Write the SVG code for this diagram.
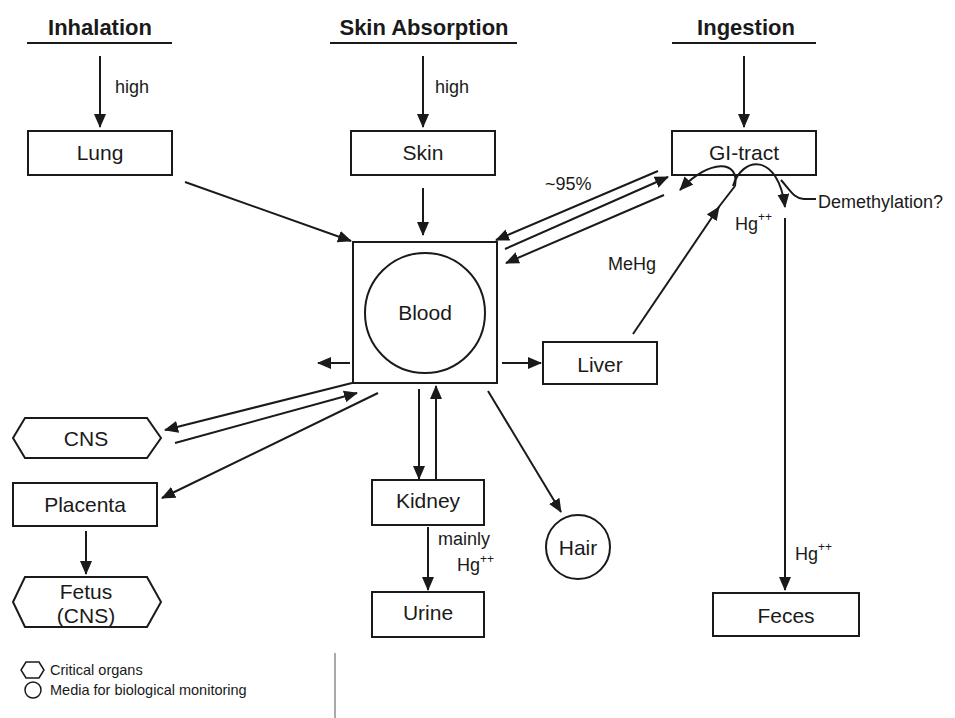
<svg xmlns="http://www.w3.org/2000/svg" width="955" height="718" viewBox="0 0 955 718">
<style>
text{font-family:"Liberation Sans",Arial,sans-serif;fill:#1a1a1a}
.hdr{font-size:22px;font-weight:bold;text-anchor:middle}
.lbl{font-size:21px;text-anchor:middle}
.sm{font-size:18px}
.lg{font-size:14.5px}
.box{fill:#fff;stroke:#1a1a1a;stroke-width:2}
.ln{fill:none;stroke:#1a1a1a;stroke-width:2}
.ar{fill:none;stroke:#1a1a1a;stroke-width:2;marker-end:url(#ah)}
</style>
<defs>
<marker id="ah" viewBox="0 0 14 12" refX="13" refY="6" markerWidth="14" markerHeight="12" orient="auto" markerUnits="userSpaceOnUse">
<path d="M0,0 L14,6 L0,12 z" fill="#1a1a1a"/>
</marker>
</defs>
<rect width="955" height="718" fill="#fff"/>

<g id="inhalation">
<text class="hdr" x="100" y="35">Inhalation</text>
<line class="ln" x1="27" y1="43" x2="172" y2="43"/>
</g>
<g id="skin-absorption">
<text class="hdr" x="424" y="35">Skin Absorption</text>
<line class="ln" x1="330" y1="43" x2="517" y2="43"/>
</g>
<g id="ingestion">
<text class="hdr" x="746" y="35">Ingestion</text>
<line class="ln" x1="672" y1="43" x2="816" y2="43"/>
</g>

<g id="lung">
<rect class="box" x="28" y="131" width="144" height="44"/>
<text class="lbl" x="100" y="160">Lung</text>
</g>
<g id="skin">
<rect class="box" x="351" y="131" width="144" height="44"/>
<text class="lbl" x="423" y="160">Skin</text>
</g>
<g id="gi-tract">
<rect class="box" x="672" y="131" width="144" height="44"/>
<text class="lbl" x="744" y="160">GI-tract</text>
</g>
<g id="blood">
<rect class="box" x="353" y="242" width="144" height="141"/>
<circle cx="425" cy="313" r="60" fill="none" stroke="#1a1a1a" stroke-width="2"/>
<text class="lbl" x="425" y="320">Blood</text>
</g>
<g id="liver">
<rect class="box" x="543" y="342" width="114" height="42"/>
<text class="lbl" x="600" y="372">Liver</text>
</g>
<g id="cns">
<polygon class="box" points="25,418 147,418 161,438 147,458 25,458 13,438"/>
<text class="lbl" x="86" y="446">CNS</text>
</g>
<g id="placenta">
<rect class="box" x="13" y="483" width="144" height="43"/>
<text class="lbl" x="85" y="512">Placenta</text>
</g>
<g id="fetus">
<polygon class="box" points="25,577 147,577 161,602 147,627 25,627 13,602"/>
<text class="lbl" x="86" y="599">Fetus</text>
<text class="lbl" x="86" y="623">(CNS)</text>
</g>
<g id="kidney">
<rect class="box" x="372" y="480" width="112" height="45"/>
<text class="lbl" x="428" y="508">Kidney</text>
</g>
<g id="urine">
<rect class="box" x="372" y="592" width="112" height="45"/>
<text class="lbl" x="428" y="620">Urine</text>
</g>
<g id="hair">
<circle cx="578" cy="547" r="32" fill="#fff" stroke="#1a1a1a" stroke-width="2"/>
<text class="lbl" x="578" y="555">Hair</text>
</g>
<g id="feces">
<rect class="box" x="713" y="593" width="146" height="43"/>
<text class="lbl" x="786" y="623">Feces</text>
</g>

<g id="connectors">
<line class="ar" x1="100" y1="56" x2="100" y2="127"/>
<line class="ar" x1="423" y1="56" x2="423" y2="127"/>
<line class="ar" x1="744" y1="56" x2="744" y2="127"/>
<line class="ar" x1="185" y1="182" x2="351" y2="241"/>
<line class="ar" x1="423" y1="188" x2="423" y2="235"/>
<line class="ar" x1="658" y1="171" x2="496" y2="240"/>
<line class="ar" x1="505" y1="249" x2="668" y2="177"/>
<line class="ar" x1="664" y1="195" x2="506" y2="263"/>
<line class="ar" x1="350" y1="363" x2="318" y2="363"/>
<line class="ar" x1="502" y1="363" x2="541" y2="363"/>
<line class="ar" x1="633" y1="334" x2="719" y2="207"/>
<path class="ln" d="M718,208 L735,186"/>
<path class="ar" d="M735,186 C740,160 710,158 680,190"/>
<path class="ar" d="M733,186 C742,156 778,152 785,207"/>
<path class="ln" d="M781,180 C790,190 795,200 805,199 L816,199"/>
<line class="ar" x1="785" y1="218" x2="785" y2="590"/>
<line class="ar" x1="352" y1="383" x2="165" y2="430"/>
<line class="ar" x1="175" y1="443" x2="357" y2="393"/>
<line class="ar" x1="378" y1="393" x2="162" y2="498"/>
<line class="ar" x1="86" y1="531" x2="86" y2="574"/>
<line class="ar" x1="419" y1="389" x2="419" y2="479"/>
<line class="ar" x1="436" y1="480" x2="436" y2="386"/>
<line class="ar" x1="428" y1="527" x2="428" y2="590"/>
<line class="ar" x1="488" y1="391" x2="561" y2="512"/>
</g>

<g id="labels">
<text class="sm" x="115" y="93">high</text>
<text class="sm" x="435" y="93">high</text>
<text class="sm" x="545" y="190">~95%</text>
<text class="sm" x="608" y="270">MeHg</text>
<text class="sm" x="818" y="208">Demethylation?</text>
<text class="sm" x="735" y="230">Hg<tspan font-size="12" dy="-9">++</tspan></text>
<text class="sm" x="795" y="560">Hg<tspan font-size="12" dy="-9">++</tspan></text>
<text class="sm" x="438" y="545" font-size="17">mainly</text>
<text class="sm" x="457" y="571">Hg<tspan font-size="12" dy="-8">++</tspan></text>
</g>

<g id="legend">
<polygon points="26,662 39,662 44,670 39,678 26,678 21,670" fill="none" stroke="#1a1a1a" stroke-width="1.5"/>
<text class="lg" x="50" y="675">Critical organs</text>
<circle cx="33" cy="690" r="8" fill="none" stroke="#1a1a1a" stroke-width="1.5"/>
<text class="lg" x="50" y="695">Media for biological monitoring</text>
<line x1="335" y1="653" x2="335" y2="718" stroke="#555" stroke-width="1"/>
</g>
</svg>
